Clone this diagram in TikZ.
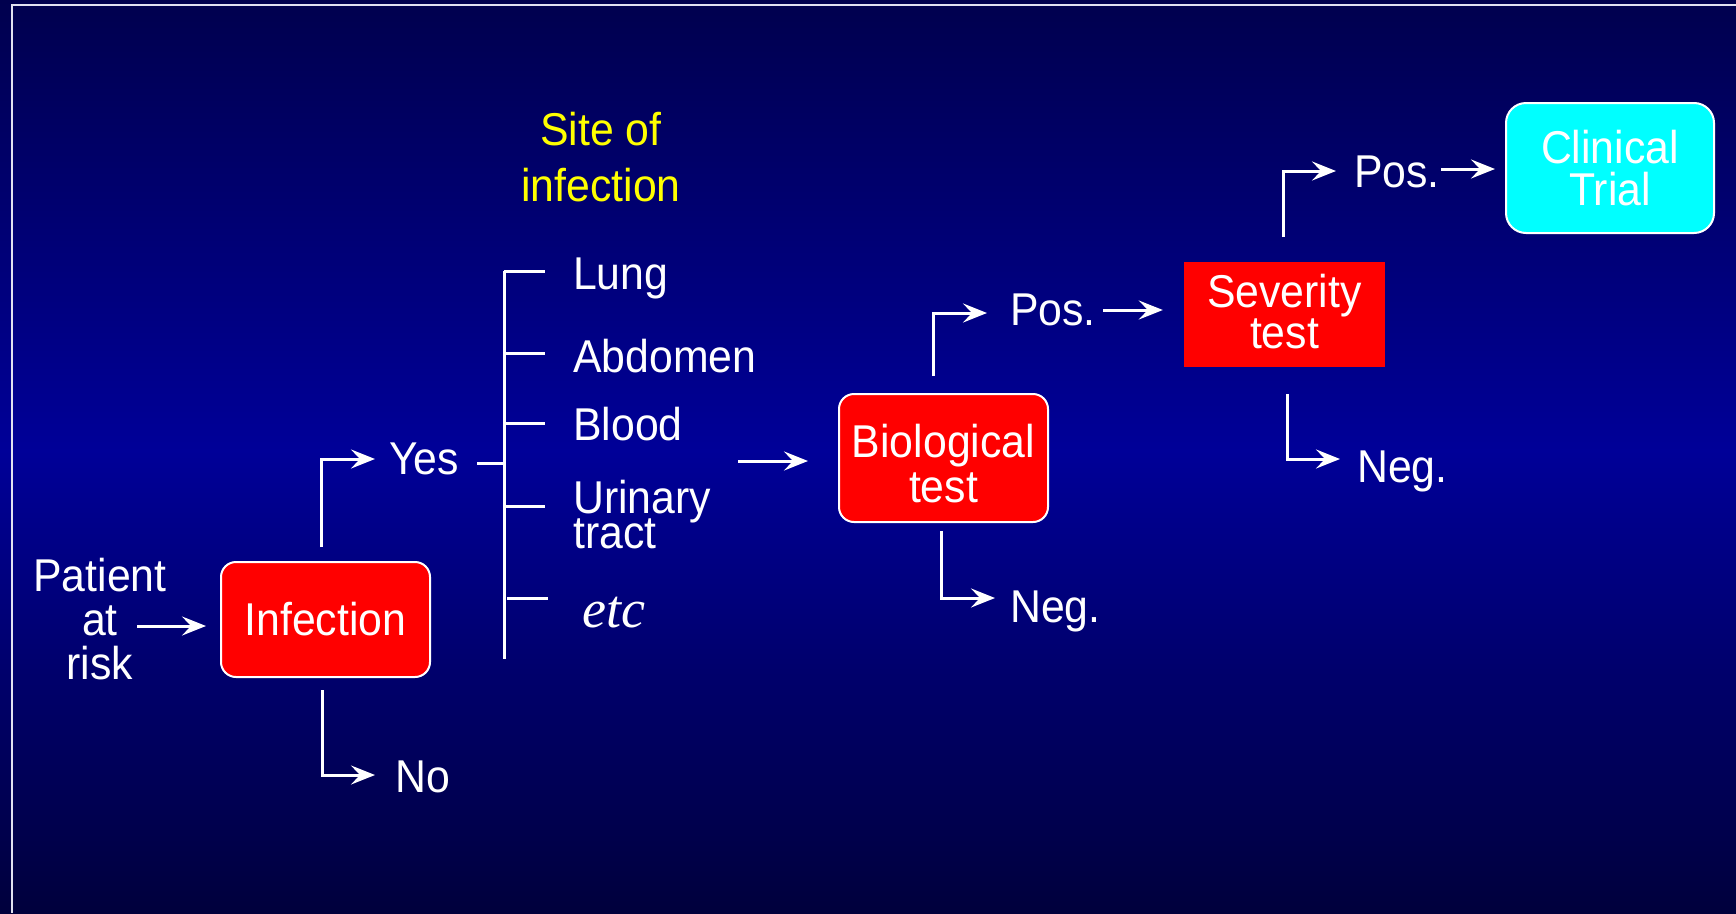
\documentclass[tikz,border=0pt]{standalone}
\usepackage{fontspec}
\setmainfont{Liberation Sans}[FakeStretch=0.93]
\newfontfamily\etcfont{Liberation Serif}
\usetikzlibrary{arrows.meta}
\definecolor{bgtop}{RGB}{0,0,78}
\definecolor{bgmid}{RGB}{0,0,152}
\definecolor{bgbot}{RGB}{0,0,60}
\definecolor{boxred}{RGB}{255,0,0}
\definecolor{trialcyan}{RGB}{0,255,255}
\definecolor{edgegrey}{RGB}{225,225,240}
\definecolor{siteyellow}{RGB}{255,255,0}
\lineskiplimit=-100pt
\begin{document}
\begin{tikzpicture}[x=1pt,y=-1pt,
  txt/.style={text=white,font=\fontsize{46}{44}\selectfont,inner sep=0pt},
  yellowtxt/.style={text=siteyellow,font=\fontsize{46}{56}\selectfont,inner sep=0pt},
  etctxt/.style={text=white,font=\etcfont\itshape\fontsize{54}{54}\selectfont,inner sep=0pt},
  redbox/.style={draw=white,line width=2pt,fill=boxred,rounded corners=15pt,minimum width=209pt,minimum height=115pt,text=white,align=center,inner sep=0pt,font=\fontsize{46}{45}\selectfont},
  sevbox/.style={fill=boxred,minimum width=201pt,minimum height=105pt,text=white,align=center,inner sep=0pt,font=\fontsize{46}{41}\selectfont},
  cyanbox/.style={draw=white,line width=2pt,fill=trialcyan,rounded corners=20pt,minimum width=208pt,minimum height=130pt,text=white,align=center,inner sep=0pt,font=\fontsize{46}{42}\selectfont},
  wline/.style={draw=white,line width=3pt},
  arr/.style={wline,-{Stealth[length=24pt,width=19pt,inset=9pt]}}
]
\useasboundingbox (0,0) rectangle (1736,913);
\shade[top color=bgtop,bottom color=bgmid] (0,0) rectangle (1736,451);
\shade[top color=bgmid,bottom color=bgbot] (0,450) rectangle (1736,913);
\draw[edgegrey,line width=2pt] (1736,5) -- (12,5) -- (12,913);

% nodes
\node[txt,align=center] (patient) at (100,619) {Patient\\at\\risk};
\node[redbox] (infection) at (325.5,619.5) {Infection};
\node[txt,anchor=base west] (yes) at (389,474) {Yes};
\node[txt,anchor=base west] (no) at (395,792) {No};
\node[yellowtxt,align=center] (site) at (601,157.5) {Site of\\infection};
\node[txt,anchor=base west] (lung) at (573,289) {Lung};
\node[txt,anchor=base west] (abdomen) at (573,372) {Abdomen};
\node[txt,anchor=base west] (blood) at (573,440) {Blood};
\node[txt,anchor=west,align=left,font=\fontsize{46}{35}\selectfont] (urinary) at (573,515) {Urinary\\tract};
\node[etctxt,anchor=base west] (etc) at (582,627) {etc};
\node[redbox,minimum height=128pt] (bio) at (943.5,458) {\rule{0pt}{45pt}Biological\\test};
\node[txt,anchor=base west] (bpos) at (1010,325) {Pos.};
\node[txt,anchor=base west] (bneg) at (1010,622) {Neg.};
\node[sevbox] (sev) at (1284.5,314.5) {Severity\\test\rule[-6pt]{0pt}{6pt}};
\node[txt,anchor=base west] (spos) at (1354,187) {Pos.};
\node[txt,anchor=base west] (sneg) at (1357,482) {Neg.};
\node[cyanbox] (trial) at (1610,168) {Clinical\\Trial};

% coordinates for free ends
\coordinate (p0) at (137,626);
\coordinate (y0) at (321,547);
\coordinate (y1) at (375,459);
\coordinate (n0) at (322,690);
\coordinate (n1) at (375,775);
\coordinate (b0) at (738,461);
\coordinate (bp0) at (933,376);
\coordinate (bp1) at (987,313);
\coordinate (bs0) at (1103,310);
\coordinate (bn0) at (941,531);
\coordinate (bn1) at (995,598);
\coordinate (sp0) at (1283,237);
\coordinate (sp1) at (1336,171);
\coordinate (st0) at (1441,169);
\coordinate (sn0) at (1287,394);
\coordinate (sn1) at (1340,459);
\coordinate (brYes) at (477,463);
\coordinate (brMid) at (504,463);
\coordinate (brTop) at (504,271);
\coordinate (brBot) at (504,659);

% connectors
\draw[arr,shorten >=14pt] (p0) -- (p0 -| infection.west);
\draw[arr] (y0) |- (y1);
\draw[arr] (n0) |- (n1);
\draw[wline] (brYes) -- (brMid);
\draw[wline] (brTop) -- (brBot);
\foreach \yy in {271,353,423,506} { \draw[wline] (504,\yy) -- (545,\yy); }
\draw[wline] (507,598) -- (548,598);
\draw[arr,shorten >=30pt] (b0) -- (b0 -| bio.west);
\draw[arr] (bp0) |- (bp1);
\draw[arr,shorten >=21pt] (bs0) -- (bs0 -| sev.west);
\draw[arr] (bn0) |- (bn1);
\draw[arr] (sp0) |- (sp1);
\draw[arr,shorten >=10pt] (st0) -- (st0 -| trial.west);
\draw[arr] (sn0) |- (sn1);
\end{tikzpicture}
\end{document}
